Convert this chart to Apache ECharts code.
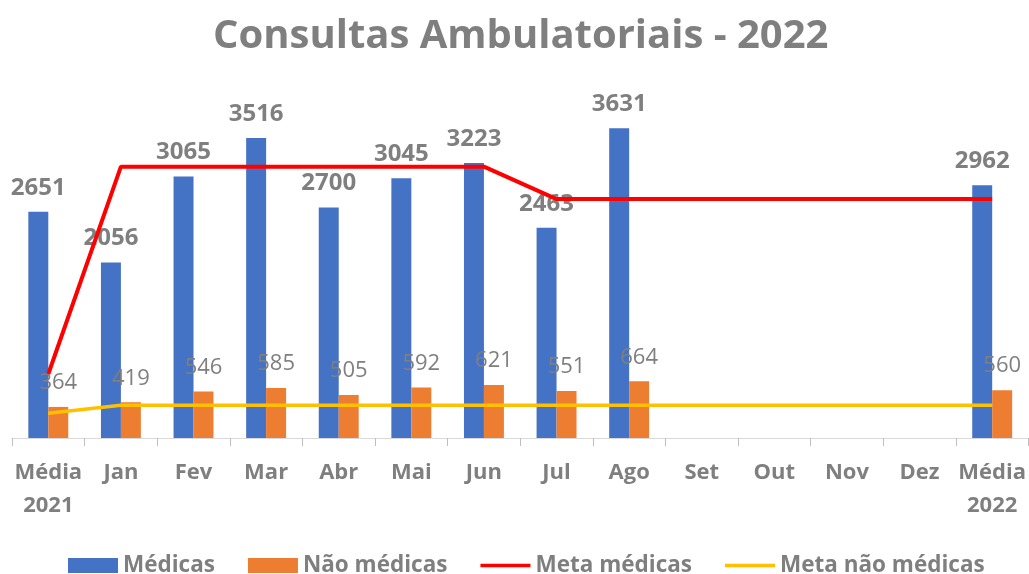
<!DOCTYPE html>
<html>
<head>
<meta charset="utf-8">
<script src="https://cdn.jsdelivr.net/npm/echarts@6/dist/echarts.min.js"></script>
<style>
  html, body { margin: 0; padding: 0; background: #fff; }
  #chart { width: 1029px; height: 574px; }
</style>
</head>
<body>
<div id="chart"></div>
<script>
// categorias do eixo x
const categorias = ['Média\n2021', 'Jan', 'Fev', 'Mar', 'Abr', 'Mai', 'Jun', 'Jul', 'Ago', 'Set', 'Out', 'Nov', 'Dez', 'Média\n2022'];
// consultas médicas
const medicas = [2651, 2056, 3065, 3516, 2700, 3045, 3223, 2463, 3631, null, null, null, null, 2962];
// consultas não médicas
const naoMedicas = [364, 419, 546, 585, 505, 592, 621, 551, 664, null, null, null, null, 560];
// metas
const metaMedicas = [750, 3180, 3180, 3180, 3180, 3180, 3180, 2800, 2800, 2800, 2800, 2800, 2800, 2800];
const metaNaoMedicas = [290, 385, 385, 385, 385, 385, 385, 385, 385, 385, 385, 385, 385, 385];

const cinza = '#7f7f7f';
const fonte = '"Open Sans", sans-serif';
// ícone de linha fina para a legenda
const iconeLinha = 'path://M0,0H50V3.5H0Z';

const chart = echarts.init(document.getElementById('chart'));
chart.setOption({
    animation: false,
    title: {
        text: 'Consultas Ambulatoriais - 2022',
        left: 208,
        top: 12,
        textStyle: { color: cinza, fontSize: 40, fontWeight: 'bold', fontFamily: fonte }
    },
    legend: {
        top: 554,
        left: 68,
        padding: 0,
        itemGap: 33,
        itemWidth: 50,
        itemHeight: 15,
        textStyle: { color: cinza, fontSize: 22.5, fontWeight: 'bold', fontFamily: fonte },
        data: [
            { name: 'Médicas', icon: 'rect' },
            { name: 'Não médicas', icon: 'rect' },
            { name: 'Meta médicas', icon: iconeLinha },
            { name: 'Meta não médicas', icon: iconeLinha }
        ]
    },
    grid: { left: 12, right: 0, top: 54, bottom: 136 },
    xAxis: {
        type: 'category',
        data: categorias,
        axisLine: { lineStyle: { color: '#d9d9d9', width: 1 } },
        axisTick: { show: true, length: 8, lineStyle: { color: '#bfbfbf' } },
        axisLabel: {
            color: cinza, fontSize: 22, fontWeight: 'bold', fontFamily: fonte,
            interval: 0, lineHeight: 33, margin: 18
        }
    },
    yAxis: {
        type: 'value',
        min: 0,
        max: 4500,
        show: false,
        splitLine: { show: false }
    },
    series: [
        {
            name: 'Médicas',
            type: 'bar',
            data: medicas,
            barGap: '0%',
            barCategoryGap: '45%',
            itemStyle: { color: '#4472c4' },
            label: {
                show: true, position: 'top', distance: 12,
                color: cinza, fontSize: 24, fontWeight: 'bold', fontFamily: fonte
            }
        },
        {
            name: 'Não médicas',
            type: 'bar',
            data: naoMedicas,
            itemStyle: { color: '#ed7d31' },
            label: {
                show: true, position: 'top', distance: 13,
                color: cinza, fontSize: 22, fontFamily: fonte
            }
        },
        {
            name: 'Meta médicas',
            type: 'line',
            data: metaMedicas,
            symbol: 'none',
            lineStyle: { color: '#ff0000', width: 4 },
            itemStyle: { color: '#ff0000' }
        },
        {
            name: 'Meta não médicas',
            type: 'line',
            data: metaNaoMedicas,
            symbol: 'none',
            lineStyle: { color: '#ffc000', width: 3.5 },
            itemStyle: { color: '#ffc000' }
        }
    ]
});
</script>
</body>
</html>
